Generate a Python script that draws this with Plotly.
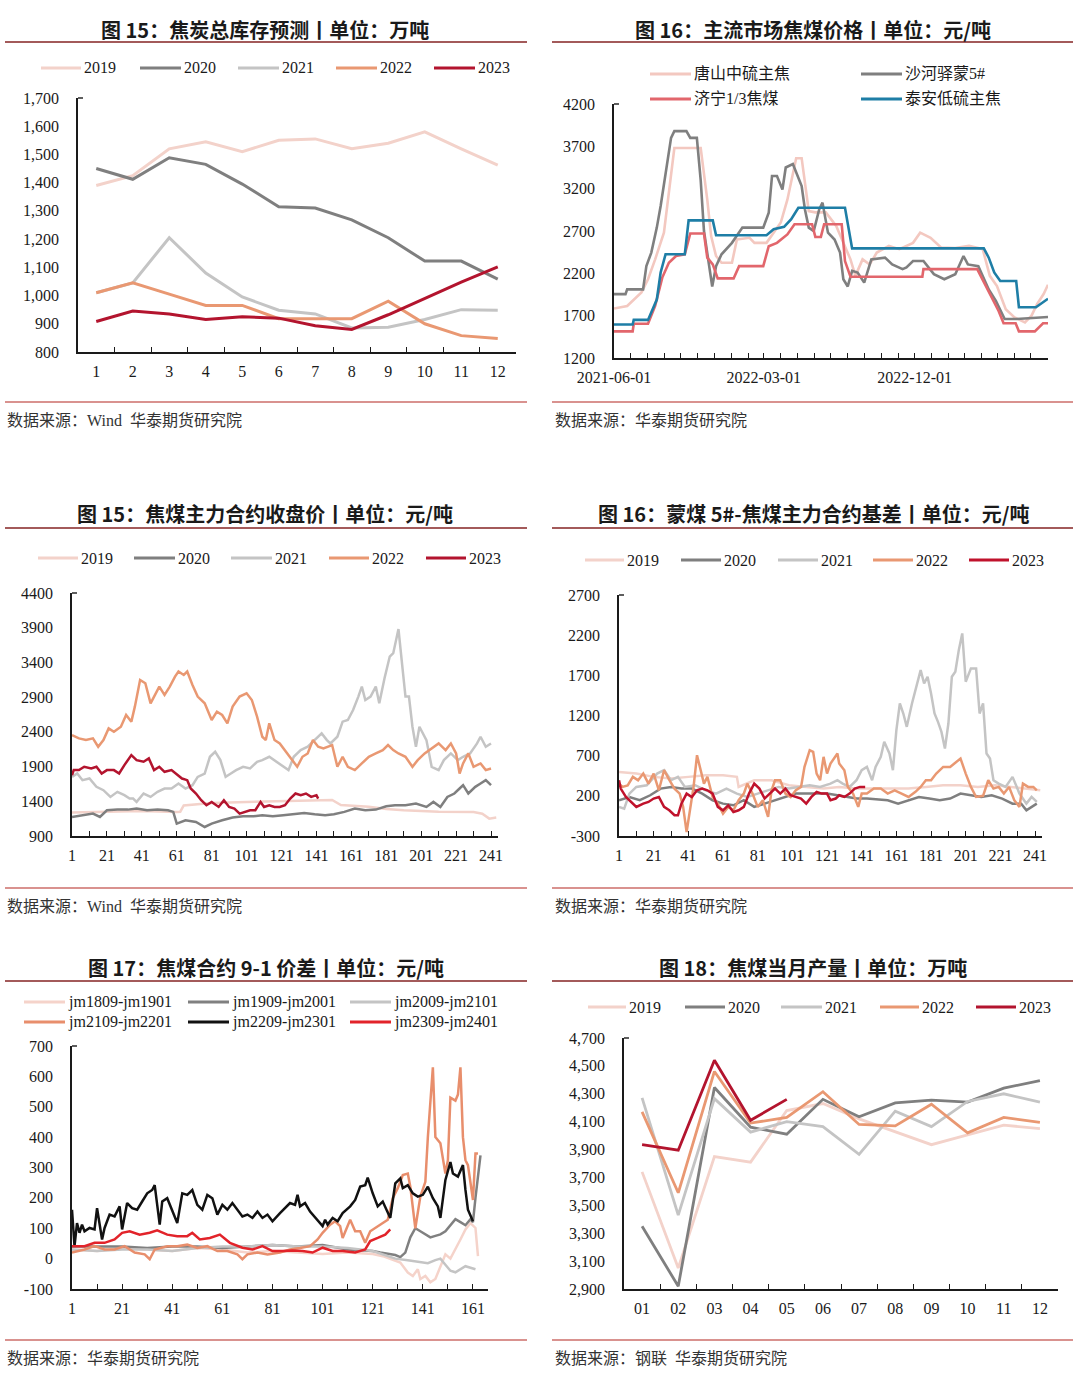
import plotly.graph_objects as go

W, H = 1080, 1392
def fx(x): return x / W
def fy(y): return 1 - y / H

SERIF = "Liberation Serif"
MIX = "Liberation Serif, Noto Sans CJK SC"
CJK = "Noto Sans CJK SC"
INK = "#1a1a1a"

C19 = "#F3D2CA"
C20 = "#7F7F7F"
C21 = "#C4C4C4"
C22 = "#E99872"
C23 = "#B3142E"

# ---------------- Panel 1: 焦炭总库存预测 ----------------
p1_months = [str(i) for i in range(1, 13)]
p1_2019 = [1390, 1425, 1520, 1545, 1510, 1550, 1555, 1520, 1540, 1580, 1520, 1462]
p1_2020 = [1450, 1412, 1488, 1465, 1395, 1315, 1310, 1268, 1205, 1122, 1122, 1058]
p1_2021 = [1010, 1045, 1205, 1080, 995, 948, 935, 885, 888, 915, 950, 948]
p1_2022 = [1010, 1045, 1005, 965, 965, 918, 918, 918, 980, 900, 858, 848]
p1_2023 = [908, 945, 935, 915, 925, 920, 893, 880, 932, 990, 1048, 1102]
p1_yticks = [800, 900, 1000, 1100, 1200, 1300, 1400, 1500, 1600, 1700]
p1_ytext = ["800", "900", "1,000", "1,100", "1,200", "1,300", "1,400", "1,500", "1,600", "1,700"]

# ---------------- Panel 2: 主流市场焦煤价格 ----------------
ta_x = ["2021-06-01", "2021-07-05", "2021-07-07", "2021-08-02", "2021-08-18", "2021-08-25", "2021-09-03",
        "2021-10-08", "2021-10-15", "2021-11-28", "2021-12-04", "2022-03-06", "2022-03-19", "2022-04-07",
        "2022-04-20", "2022-05-03", "2022-07-27", "2022-08-09", "2023-04-06", "2023-04-15", "2023-04-25",
        "2023-05-06", "2023-06-04", "2023-06-09", "2023-07-10", "2023-07-17", "2023-08-01"]
ta_y = [1595, 1595, 1650, 1650, 1890, 2210, 2425, 2425, 2825, 2825, 2650, 2650, 2720, 2750, 2840, 2975,
        2975, 2495, 2495, 2385, 2210, 2110, 2110, 1800, 1800, 1835, 1900]

jn_x = ["2021-06-01", "2021-07-05", "2021-07-07", "2021-08-02", "2021-08-15", "2021-08-28", "2021-09-09",
        "2021-09-22", "2021-10-08", "2021-10-18", "2021-11-12", "2021-11-18", "2021-11-28", "2021-12-07",
        "2022-01-05", "2022-01-15", "2022-02-28", "2022-03-10", "2022-03-25", "2022-04-13", "2022-04-26",
        "2022-05-28", "2022-06-03", "2022-06-13", "2022-06-19", "2022-07-21", "2022-07-27", "2022-08-06",
        "2022-12-15", "2022-12-17", "2023-03-25", "2023-04-08", "2023-04-20", "2023-05-03", "2023-05-12",
        "2023-06-03", "2023-06-09", "2023-07-08", "2023-07-23", "2023-08-01"]
jn_y = [1515, 1515, 1605, 1605, 1815, 2150, 2325, 2405, 2425, 2670, 2670, 2385, 2305, 2140, 2140, 2285,
        2285, 2520, 2560, 2660, 2780, 2780, 2630, 2630, 2780, 2780, 2345, 2160, 2160, 2250, 2250, 2070,
        1935, 1755, 1610, 1610, 1515, 1515, 1610, 1610]

sh_x = ["2021-06-01", "2021-06-22", "2021-06-25", "2021-07-24", "2021-07-30", "2021-08-08", "2021-08-18",
        "2021-08-25", "2021-09-13", "2021-09-19", "2021-10-11", "2021-10-18", "2021-10-30", "2021-11-06",
        "2021-11-12", "2021-11-18", "2021-11-27", "2021-12-04", "2021-12-14", "2022-01-02", "2022-01-21",
        "2022-02-28", "2022-03-10", "2022-03-16", "2022-03-25", "2022-04-04", "2022-04-10", "2022-04-23",
        "2022-04-29", "2022-05-09", "2022-05-15", "2022-05-22", "2022-05-31", "2022-06-10", "2022-06-16",
        "2022-06-26", "2022-07-08", "2022-07-18", "2022-07-24", "2022-08-01", "2022-08-09", "2022-08-19",
        "2022-08-31", "2022-09-13", "2022-10-08", "2022-10-21", "2022-11-09", "2022-11-16", "2022-11-28",
        "2022-12-17", "2023-01-05", "2023-01-24", "2023-02-13", "2023-02-28", "2023-03-08", "2023-03-27",
        "2023-04-15", "2023-04-28", "2023-05-14", "2023-06-05", "2023-08-01"]
sh_y = [1955, 1955, 2010, 2010, 2285, 2445, 2740, 2995, 3800, 3880, 3880, 3800, 3800, 3300, 2700, 2445,
        2045, 2285, 2425, 2560, 2740, 2740, 2915, 3350, 3350, 3190, 3450, 3490, 3390, 3230, 2955, 2740,
        2700, 2955, 3035, 2680, 2600, 2445, 2130, 2045, 2230, 2210, 2090, 2365, 2385, 2305, 2250, 2270,
        2345, 2345, 2190, 2130, 2190, 2405, 2305, 2285, 2010, 1875, 1660, 1660, 1685]

ts_x = ["2021-06-01", "2021-06-25", "2021-07-21", "2021-08-02", "2021-08-15", "2021-08-31", "2021-09-19",
        "2021-11-06", "2021-11-18", "2021-11-25", "2021-12-04", "2021-12-14", "2022-01-02", "2022-01-11",
        "2022-02-03", "2022-02-12", "2022-03-06", "2022-03-19", "2022-04-01", "2022-04-13", "2022-04-29",
        "2022-05-09", "2022-05-22", "2022-06-03", "2022-06-22", "2022-07-11", "2022-07-24", "2022-08-06",
        "2022-08-15", "2022-08-28", "2022-09-10", "2022-09-23", "2022-10-15", "2022-11-03", "2022-11-28",
        "2022-12-11", "2022-12-30", "2023-01-18", "2023-02-13", "2023-03-10", "2023-04-04", "2023-04-17",
        "2023-04-30", "2023-05-16", "2023-06-01", "2023-06-20", "2023-07-02", "2023-07-12", "2023-07-24",
        "2023-08-01"]
ts_y = [1785, 1815, 1975, 2130, 2365, 2680, 3680, 3680, 3070, 2640, 2405, 2325, 2325, 2600, 2620, 2560,
        2560, 2680, 2800, 3070, 3560, 3560, 2935, 2920, 2920, 2760, 2560, 2365, 2170, 2365, 2305, 2445,
        2525, 2485, 2560, 2680, 2620, 2505, 2500, 2525, 2485, 2170, 2050, 1775, 1680, 1620, 1700, 1835,
        1955, 2065]
p2_xticks = ["2021-06-01", "2022-03-01", "2022-12-01"]
p2_yticks = [1200, 1700, 2200, 2700, 3200, 3700, 4200]

# ---------------- Panel 3: 焦煤主力合约收盘价 ----------------
p3_d2019 = [1, 21, 41, 61, 63, 65, 81, 101, 121, 141, 150, 155, 171, 181, 191, 211, 231, 236, 240, 244]
p3_v2019 = [1240, 1255, 1260, 1245, 1250, 1340, 1375, 1390, 1400, 1420, 1420, 1345, 1320, 1290, 1270,
            1250, 1245, 1220, 1150, 1165]
p3_d2020 = [1, 7, 13, 17, 21, 27, 33, 38, 44, 50, 56, 59, 61, 66, 72, 77, 81, 87, 93, 99, 105, 110, 116,
            122, 128, 134, 140, 146, 151, 157, 163, 169, 175, 181, 186, 192, 198, 204, 208, 212, 216, 220,
            223, 225, 228, 232, 235, 238, 241]
p3_v2020 = [1175, 1199, 1223, 1175, 1271, 1280, 1280, 1295, 1271, 1280, 1271, 1247, 1078, 1126, 1102, 1030,
            1078, 1126, 1165, 1184, 1184, 1199, 1184, 1199, 1213, 1232, 1213, 1199, 1213, 1247, 1295, 1271,
            1280, 1329, 1343, 1343, 1367, 1319, 1391, 1319, 1463, 1512, 1584, 1632, 1512, 1608, 1656, 1704,
            1632]
p3_d2021 = [1, 4, 7, 11, 15, 19, 23, 27, 31, 34, 36, 38, 42, 46, 50, 54, 58, 62, 66, 70, 73, 77, 80, 83, 86,
            89, 92, 95, 99, 103, 107, 110, 114, 118, 122, 125, 128, 132, 136, 140, 144, 147, 149, 153, 156,
            159, 162, 165, 167, 169, 172, 175, 177, 180, 183, 185, 188, 190, 192, 194, 196, 198, 200, 204,
            207, 211, 214, 218, 222, 225, 229, 233, 235, 238, 241]
p3_v2021 = [1752, 1800, 1704, 1728, 1608, 1560, 1463, 1536, 1488, 1439, 1439, 1391, 1512, 1463, 1536, 1584,
            1584, 1656, 1584, 1632, 1752, 1800, 2041, 2113, 1993, 1752, 1800, 1849, 1897, 1873, 1969, 1993,
            2041, 1969, 1897, 1849, 2041, 2137, 2186, 2282, 2378, 2282, 2233, 2330, 2547, 2571, 2715, 2908,
            3052, 2859, 2908, 3052, 2811, 3172, 3485, 3533, 3880, 3389, 2908, 2908, 2474, 2186, 2474, 2282,
            1897, 1849, 1993, 2089, 1993, 2041, 2089, 2233, 2330, 2186, 2233]
p3_d2022 = [1, 5, 9, 13, 16, 19, 22, 25, 29, 32, 35, 37, 40, 43, 46, 48, 51, 54, 57, 60, 62, 65, 67, 70, 73,
            77, 81, 84, 87, 90, 93, 97, 101, 104, 107, 110, 112, 114, 117, 120, 123, 126, 130, 133, 136, 139,
            142, 145, 148, 150, 153, 156, 159, 163, 167, 171, 175, 179, 182, 185, 188, 192, 196, 199, 203,
            207, 211, 215, 218, 221, 223, 225, 228, 231, 235, 238, 241]
p3_v2022 = [2354, 2306, 2282, 2306, 2186, 2282, 2450, 2402, 2474, 2643, 2547, 2763, 3148, 3100, 2811, 2908,
            3052, 2932, 3052, 3196, 3269, 3220, 3269, 3076, 2908, 2811, 2571, 2691, 2643, 2523, 2763, 2908,
            2956, 2859, 2619, 2330, 2282, 2523, 2282, 2233, 2137, 2041, 1897, 2041, 2089, 2282, 2186, 2162,
            2186, 2210, 1897, 2041, 1897, 1849, 1945, 2041, 2089, 2137, 2210, 2137, 2089, 2041, 1897, 1993,
            2089, 2162, 2233, 2137, 2233, 2089, 1800, 1945, 2089, 1897, 1945, 1849, 1873]
p3_d2023 = [1, 2, 5, 8, 12, 15, 18, 21, 25, 28, 31, 34, 35, 38, 42, 45, 48, 51, 54, 58, 62, 64, 67, 69, 72,
            75, 78, 81, 85, 88, 91, 94, 97, 100, 103, 106, 109, 111, 114, 117, 120, 123, 126, 129, 132, 135,
            138, 141, 142]
p3_v2023 = [1776, 1849, 1849, 1897, 1873, 1897, 1800, 1849, 1849, 1800, 1921, 2041, 2065, 1993, 1969, 2017,
            1849, 1897, 1825, 1849, 1776, 1728, 1704, 1584, 1512, 1415, 1343, 1391, 1319, 1415, 1319, 1295,
            1223, 1247, 1271, 1271, 1391, 1319, 1343, 1319, 1319, 1343, 1439, 1512, 1488, 1512, 1463, 1488,
            1439]
p3_yticks = [900, 1400, 1900, 2400, 2900, 3400, 3900, 4400]
day_ticks = list(range(1, 242, 10))

# ---------------- Panel 4: 蒙煤5#-焦煤主力合约基差 ----------------
p4_d2019 = [1, 11, 21, 31, 41, 51, 61, 69, 70, 79, 89, 99, 109, 119, 128, 138, 148, 158, 168, 178, 188,
            198, 208, 218, 228, 238, 244]
p4_v2019 = [498, 477, 436, 415, 436, 456, 456, 436, 311, 394, 394, 332, 311, 290, 311, 290, 290, 290, 290,
            311, 332, 332, 311, 332, 311, 290, 269]
p4_d2020 = [1, 7, 13, 19, 25, 31, 37, 43, 49, 55, 61, 67, 73, 79, 85, 91, 97, 103, 109, 115, 121, 127, 133,
            138, 144, 150, 156, 162, 168, 174, 180, 186, 192, 198, 204, 210, 216, 222, 228, 233, 236, 239, 242]
p4_v2020 = [145, 186, 145, 207, 290, 311, 290, 290, 228, 145, 103, 82, 145, 62, 103, 145, 186, 228, 228, 228,
            228, 207, 186, 166, 166, 155, 145, 103, 145, 186, 166, 145, 166, 228, 207, 186, 207, 166, 103,
            103, 20, 62, 103]
p4_d2021 = [1, 4, 7, 11, 17, 23, 27, 31, 35, 39, 45, 51, 57, 63, 69, 75, 81, 87, 93, 99, 105, 111, 117, 123,
            127, 130, 134, 138, 141, 144, 147, 149, 152, 154, 157, 159, 161, 163, 165, 167, 170, 173, 175,
            177, 179, 181, 183, 185, 187, 189, 191, 193, 195, 197, 199, 201, 204, 207, 209, 211, 213, 215,
            217, 220, 224, 228, 232, 236, 239, 242]
p4_v2021 = [62, 40, 228, 311, 332, 477, 519, 394, 436, 311, 332, 269, 228, 290, 228, 186, 228, 269, 311, 290,
            311, 332, 311, 352, 394, 352, 311, 394, 519, 560, 394, 560, 685, 872, 727, 519, 1017, 1350, 1225,
            1059, 1350, 1599, 1765, 1599, 1682, 1474, 1225, 1121, 996, 789, 1100, 1682, 1744, 2014, 2222,
            1620, 1786, 1786, 1225, 1350, 727, 664, 394, 352, 311, 436, 228, 103, 186, 124]
p4_d2022 = [1, 3, 6, 9, 12, 15, 18, 21, 24, 27, 30, 33, 36, 38, 40, 42, 44, 46, 48, 50, 52, 55, 58, 61, 64,
            67, 70, 73, 75, 78, 81, 84, 87, 89, 91, 94, 97, 100, 103, 106, 108, 111, 113, 115, 117, 119, 121,
            123, 127, 128, 131, 133, 136, 139, 141, 144, 148, 152, 156, 160, 164, 168, 172, 175, 178, 181,
            184, 188, 192, 196, 198, 201, 204, 207, 211, 214, 217, 220, 223, 226, 229, 232, 234, 237, 240, 242]
p4_v2022 = [352, 311, 330, 436, 394, 477, 352, 477, 269, 519, 400, 290, 228, 62, -250, 62, 311, 706, 519, 352,
            436, 186, 103, -22, 62, 20, 145, 228, 352, 228, 62, 145, -63, 269, 394, 394, 228, 186, 269, 311,
            560, 768, 747, 477, 394, 685, 477, 602, 727, 602, 519, 311, 228, 62, 228, 228, 290, 290, 228, 269,
            228, 186, 250, 311, 394, 394, 477, 560, 560, 623, 664, 477, 311, 186, 200, 394, 290, 311, 228, 311,
            145, 62, 352, 311, 311, 269]
p4_d2023 = [1, 2, 5, 8, 11, 15, 18, 21, 24, 27, 30, 33, 35, 37, 40, 43, 46, 49, 52, 55, 58, 61, 64, 67, 70,
            73, 76, 79, 82, 85, 88, 91, 94, 97, 100, 103, 106, 109, 112, 115, 118, 121, 123, 126, 128, 131,
            134, 137, 140, 143]
p4_v2023 = [394, 290, 186, 124, 62, 103, 124, 166, 186, 62, 20, -42, -42, 103, 228, 186, 269, 290, 269, 228,
            62, 20, 82, -1, 20, 62, 228, 352, 290, 166, 228, 290, 228, 290, 207, 186, 166, 103, 186, 248,
            228, 228, 145, 166, 207, 186, 228, 290, 311, 311]
p4_yticks = [-300, 200, 700, 1200, 1700, 2200, 2700]
p4_ytext = ["-300", "200", "700", "1200", "1700", "2200", "2700"]

# ---------------- Panel 5: 焦煤合约9-1价差 ----------------
s1809_d = [1, 11, 21, 31, 41, 51, 61, 71, 81, 91, 101, 111, 121, 125, 132, 135, 137, 139, 140, 142, 144, 146,
           148, 150, 152, 154, 156, 158, 160, 162, 163]
s1809_v = [30, 25, 35, 30, 25, 35, 30, 20, 25, 20, 15, 20, 15, 8, -13, -46, -57, -35, -67, -57, -78, -67, -24,
           14, 0, 30, 63, 96, 117, 101, 8]
s1909_d = [1, 11, 21, 31, 41, 51, 61, 71, 81, 91, 101, 111, 121, 124, 127, 130, 132, 134, 136, 138, 140, 142,
           144, 146, 148, 150, 152, 154, 156, 158, 160, 161, 162, 164]
s1909_v = [40, 40, 40, 35, 40, 40, 35, 40, 45, 40, 45, 30, 25, 20, 15, 12, 5, 20, 70, 100, 90, 80, 70, 75, 80,
           90, 110, 130, 120, 110, 130, 120, 200, 340]
s2009_d = [1, 11, 21, 31, 41, 51, 61, 71, 81, 91, 101, 111, 121, 125, 130, 135, 140, 143, 146, 148, 150, 152,
           154, 156, 158, 160, 162]
s2009_v = [30, 25, 30, 30, 25, 35, 40, 40, 45, 40, 40, 35, 25, 15, 0, -5, -10, -15, -5, 0, -20, -40, -45, -35,
           -25, -30, -35]
s2109_d = [1, 6, 10, 14, 18, 22, 26, 30, 32, 34, 39, 43, 47, 51, 55, 59, 63, 67, 69, 71, 75, 79, 84, 88, 92,
           96, 99, 101, 104, 106, 108, 109, 112, 114, 116, 118, 120, 122, 125, 127, 129, 131, 133, 135, 136,
           138, 140, 142, 143, 145, 146, 148, 150, 151, 152, 153, 154, 155, 156, 157, 158, 159, 161, 162, 163]
s2109_v = [20, 30, 41, 30, 30, 41, 20, 14, -2, 30, 41, 41, 46, 35, 41, 25, 25, 14, -2, 14, 20, 14, 20, 30, 35,
           41, 63, 85, 112, 123, 107, 68, 128, 90, 90, 52, 90, 101, 117, 128, 199, 232, 275, 280, 237, 100, 204,
           253, 400, 630, 400, 380, 280, 324, 530, 525, 520, 540, 630, 400, 324, 308, 193, 346, 346]
s2209_d = [1, 2, 3, 4, 5, 6, 8, 10, 11, 13, 14, 16, 18, 20, 21, 23, 25, 27, 29, 31, 33, 34, 36, 37, 39, 41, 43,
           45, 47, 49, 51, 53, 55, 57, 59, 61, 63, 65, 67, 69, 71, 73, 75, 77, 79, 81, 84, 86, 88, 90, 91, 92,
           94, 96, 99, 101, 102, 103, 105, 107, 109, 112, 114, 116, 118, 119, 121, 123, 125, 128, 130, 132,
           133, 135, 137, 139, 141, 143, 145, 147, 148, 150, 152, 153, 155, 157, 158, 159, 161]
s2209_v = [161, 41, 117, 85, 112, 90, 101, 96, 166, 63, 101, 145, 139, 172, 96, 183, 166, 161, 188, 215, 226,
           242, 112, 188, 199, 155, 117, 215, 210, 226, 177, 161, 210, 199, 145, 177, 161, 183, 161, 139, 145,
           134, 155, 134, 145, 123, 150, 166, 183, 177, 210, 172, 183, 155, 128, 107, 128, 112, 134, 123, 150,
           172, 193, 237, 242, 267, 215, 172, 188, 134, 248, 264, 232, 242, 215, 204, 210, 237, 199, 172, 134,
           259, 318, 280, 270, 308, 226, 161, 123]
s2309_d = [1, 6, 10, 14, 18, 21, 24, 28, 32, 35, 39, 43, 47, 49, 52, 56, 60, 64, 69, 73, 77, 81, 85, 89, 93,
           97, 101, 105, 109, 114, 118, 120, 123, 126, 128]
s2309_v = [41, 41, 52, 52, 63, 85, 90, 79, 85, 93, 79, 74, 74, 85, 63, 68, 79, 52, 36, 30, 41, 25, 25, 27, 25,
           20, 36, 25, 25, 20, 30, 58, 68, 79, 96]
p5_yticks = [-100, 0, 100, 200, 300, 400, 500, 600, 700]
p5_ytext = ["-100", "0", "100", "200", "300", "400", "500", "600", "700"]
p5_xticks = list(range(1, 162, 10))

# ---------------- Panel 6: 焦煤当月产量 ----------------
p6_months = ["01", "02", "03", "04", "05", "06", "07", "08", "09", "10", "11", "12"]
p6_2019 = [3740, 3050, 3850, 3810, 4180, 4230, 4120, 4025, 3935, 4005, 4075, 4050]
p6_2020 = [3350, 2920, 4345, 4060, 4010, 4260, 4135, 4235, 4255, 4240, 4340, 4395]
p6_2021 = [4270, 3430, 4265, 4025, 4100, 4065, 3865, 4175, 4065, 4245, 4300, 4240]
p6_2022 = [4170, 3590, 4460, 4090, 4130, 4315, 4080, 4070, 4225, 4020, 4130, 4095]
p6_2023 = [3935, 3895, 4540, 4110, 4260]
p6_yticks = [2900, 3100, 3300, 3500, 3700, 3900, 4100, 4300, 4500, 4700]
p6_ytext = ["2,900", "3,100", "3,300", "3,500", "3,700", "3,900", "4,100", "4,300", "4,500", "4,700"]

# ================= figure =================
fig = go.Figure()

def add_line(x, y, color, width, n):
    xa = "x" if n == 1 else f"x{n}"
    ya = "y" if n == 1 else f"y{n}"
    fig.add_trace(go.Scatter(x=x, y=y, mode="lines", line=dict(color=color, width=width),
                             xaxis=xa, yaxis=ya, showlegend=False, hoverinfo="skip"))

# panel 1
for ys, c in [(p1_2019, C19), (p1_2020, C20), (p1_2021, C21), (p1_2022, C22), (p1_2023, C23)]:
    add_line(p1_months, ys, c, 3, 1)
# panel 2
add_line(ts_x, ts_y, "#F3C8C0", 2.6, 2)
add_line(sh_x, sh_y, "#7F7F7F", 2.6, 2)
add_line(jn_x, jn_y, "#E2666C", 2.6, 2)
add_line(ta_x, ta_y, "#1E7EA6", 2.6, 2)
# panel 3
add_line(p3_d2019, p3_v2019, C19, 2.5, 3)
add_line(p3_d2020, p3_v2020, C20, 2.5, 3)
add_line(p3_d2021, p3_v2021, C21, 2.5, 3)
add_line(p3_d2022, p3_v2022, C22, 2.5, 3)
add_line(p3_d2023, p3_v2023, C23, 2.5, 3)
# panel 4
add_line(p4_d2019, p4_v2019, C19, 2.5, 4)
add_line(p4_d2020, p4_v2020, C20, 2.5, 4)
add_line(p4_d2021, p4_v2021, C21, 2.5, 4)
add_line(p4_d2022, p4_v2022, C22, 2.5, 4)
add_line(p4_d2023, p4_v2023, "#C0122C", 2.5, 4)
# panel 5
add_line(s1809_d, s1809_v, "#F5D3CA", 2.5, 5)
add_line(s1909_d, s1909_v, "#808080", 2.5, 5)
add_line(s2009_d, s2009_v, "#C4C4C4", 2.5, 5)
add_line(s2109_d, s2109_v, "#E88E6C", 2.5, 5)
add_line(s2209_d, s2209_v, "#111111", 2.5, 5)
add_line(s2309_d, s2309_v, "#E2232A", 2.5, 5)
# panel 6
for ys, c in [(p6_2019, C19), (p6_2020, C20), (p6_2021, C21), (p6_2022, C22), (p6_2023, C23)]:
    add_line(p6_months[:len(ys)], ys, c, 2.8, 6)

TICKFONT = dict(family=SERIF, size=16, color=INK)

def ydef(top, bot, rng, vals, text, anchor):
    return dict(domain=[fy(bot), fy(top)], range=rng, tickmode="array", tickvals=vals, ticktext=text,
                showline=True, linecolor=INK, linewidth=1.5, ticks="", showgrid=False, zeroline=False,
                tickfont=TICKFONT, anchor=anchor, ticklabelstandoff=14, fixedrange=True, automargin=False)

def xdef(l, r, anchor, **kw):
    d = dict(domain=[fx(l), fx(r)], ticks="inside", ticklen=5, tickwidth=1.3, tickcolor=INK,
             showline=True, linecolor=INK, linewidth=1.5, showgrid=False, zeroline=False,
             tickfont=TICKFONT, anchor=anchor, ticklabelstandoff=4, fixedrange=True, automargin=False)
    d.update(kw)
    return d

def lab(vals):
    return [str(v) if (v - 1) % 20 == 0 else "" for v in vals]

layout = dict(
    width=W, height=H, margin=dict(l=0, r=0, t=0, b=0, autoexpand=False),
    paper_bgcolor="white", plot_bgcolor="white", showlegend=False,
    xaxis=xdef(78, 516, "y", type="category", categoryorder="array", categoryarray=p1_months,
               tickson="boundaries", range=[-0.5, 11.5]),
    yaxis=ydef(98, 352, [800, 1700], p1_yticks, p1_ytext, "x"),
    xaxis2=xdef(614, 1048, "y2", type="date", range=["2021-06-01", "2023-08-01"], tickmode="array",
                tickvals=p2_xticks, ticktext=p2_xticks,
                minor=dict(ticks="inside", dtick="M1", tick0="2021-06-01", ticklen=5, tickwidth=1.3,
                           tickcolor=INK)),
    yaxis2=ydef(104, 358, [1200, 4200], p2_yticks, [str(v) for v in p2_yticks], "x2"),
    xaxis3=xdef(72, 498, "y3", range=[1, 245], tickmode="array", tickvals=day_ticks, ticktext=lab(day_ticks)),
    yaxis3=ydef(593, 836, [900, 4400], p3_yticks, [str(v) for v in p3_yticks], "x3"),
    xaxis4=xdef(619, 1042, "y4", range=[1, 245], tickmode="array", tickvals=day_ticks, ticktext=lab(day_ticks)),
    yaxis4=ydef(595, 836, [-300, 2700], p4_yticks, p4_ytext, "x4"),
    xaxis5=xdef(72, 488, "y5", range=[1, 167], tickmode="array", tickvals=p5_xticks, ticktext=lab(p5_xticks)),
    yaxis5=ydef(1046, 1289, [-100, 700], p5_yticks, p5_ytext, "x5"),
    xaxis6=xdef(624, 1058, "y6", type="category", categoryorder="array", categoryarray=p6_months,
                tickson="boundaries", range=[-0.5, 11.5]),
    yaxis6=ydef(1038, 1289, [2900, 4700], p6_yticks, p6_ytext, "x6"),
)

shapes = []
annotations = []

def hline(x0, x1, y, color, width):
    shapes.append(dict(type="line", xref="paper", yref="paper", x0=fx(x0), x1=fx(x1), y0=fy(y), y1=fy(y),
                       line=dict(color=color, width=width)))

def text(t, x, y, size, family, xanchor="left", color=INK):
    annotations.append(dict(text=t, x=fx(x), y=fy(y), xref="paper", yref="paper", xanchor=xanchor,
                            yanchor="middle", showarrow=False, font=dict(family=family, size=size, color=color)))

def legend_item(x0, x1, y, color, label, width=3):
    hline(x0, x1, y, color, width)
    text(label, x1 + 1, y, 16, MIX)

# small stub at the top of each value axis
for ax_x, ax_top in [(78, 98), (614, 104), (72, 593), (619, 595), (72, 1046), (624, 1038)]:
    hline(ax_x, ax_x + 5, ax_top, INK, 1.4)

# titles
for t, cx, cy in [("图 15：焦炭总库存预测丨单位：万吨", 265, 29),
                  ("图 16：主流市场焦煤价格丨单位：元/吨", 813, 29),
                  ("图 15：焦煤主力合约收盘价丨单位：元/吨", 265, 514),
                  ("图 16：蒙煤 5#-焦煤主力合约基差丨单位：元/吨", 813, 514),
                  ("图 17：焦煤合约 9-1 价差丨单位：元/吨", 266, 967),
                  ("图 18：焦煤当月产量丨单位：万吨", 813, 967)]:
    text("<b>" + t + "</b>", cx, cy, 20, CJK, xanchor="center")

# separator lines
TOPC, BOTC = "#A35A5A", "#D9928F"
for y in (42, 528, 981):
    hline(5, 527, y, TOPC, 2)
    hline(552, 1073, y, TOPC, 2)
for y in (402, 888, 1340):
    hline(5, 527, y, BOTC, 2)
    hline(552, 1073, y, BOTC, 2)

# sources
SRC = "#333333"
text("数据来源：Wind  华泰期货研究院", 5, 420, 16, MIX, color=SRC)
text("数据来源：华泰期货研究院", 553, 420, 16, MIX, color=SRC)
text("数据来源：Wind  华泰期货研究院", 5, 906, 16, MIX, color=SRC)
text("数据来源：华泰期货研究院", 553, 906, 16, MIX, color=SRC)
text("数据来源：华泰期货研究院", 5, 1358, 16, MIX, color=SRC)
text("数据来源：钢联  华泰期货研究院", 553, 1358, 16, MIX, color=SRC)

# legends
years = ["2019", "2020", "2021", "2022", "2023"]
ycols = [C19, C20, C21, C22, C23]
for (x0, x1), lbl, c in zip([(41, 81), (140, 181), (238, 279), (336, 377), (434, 475)], years, ycols):
    legend_item(x0, x1, 68, c, lbl)
for (x0, x1), lbl, c in zip([(38, 78), (134, 175), (231, 272), (329, 369), (426, 466)], years, ycols):
    legend_item(x0, x1, 558, c, lbl)
for (x0, x1), lbl, c in zip([(585, 624), (681, 721), (778, 818), (873, 913), (969, 1009)], years,
                            [C19, C20, C21, C22, "#C0122C"]):
    legend_item(x0, x1, 560, c, lbl)
for (x0, x1), lbl, c in zip([(588, 626), (685, 725), (781, 822), (880, 919), (976, 1016)], years, ycols):
    legend_item(x0, x1, 1007, c, lbl)
legend_item(650, 691, 74, "#F3C8C0", "唐山中硫主焦")
legend_item(861, 902, 74, "#7F7F7F", "沙河驿蒙5#")
legend_item(650, 691, 99, "#E2666C", "济宁1/3焦煤")
legend_item(861, 902, 99, "#1E7EA6", "泰安低硫主焦")
for (x0, x1, y), lbl, c in zip([(24, 65, 1002), (188, 229, 1002), (350, 391, 1002),
                                (24, 65, 1022), (188, 229, 1022), (350, 391, 1022)],
                               ["jm1809-jm1901", "jm1909-jm2001", "jm2009-jm2101",
                                "jm2109-jm2201", "jm2209-jm2301", "jm2309-jm2401"],
                               ["#F5D3CA", "#808080", "#C4C4C4", "#E88E6C", "#111111", "#E2232A"]):
    legend_item(x0, x1, y, c, lbl)

layout["shapes"] = shapes
layout["annotations"] = annotations
fig.update_layout(**layout)
fig.write_html("out.html", config={"displayModeBar": False})
